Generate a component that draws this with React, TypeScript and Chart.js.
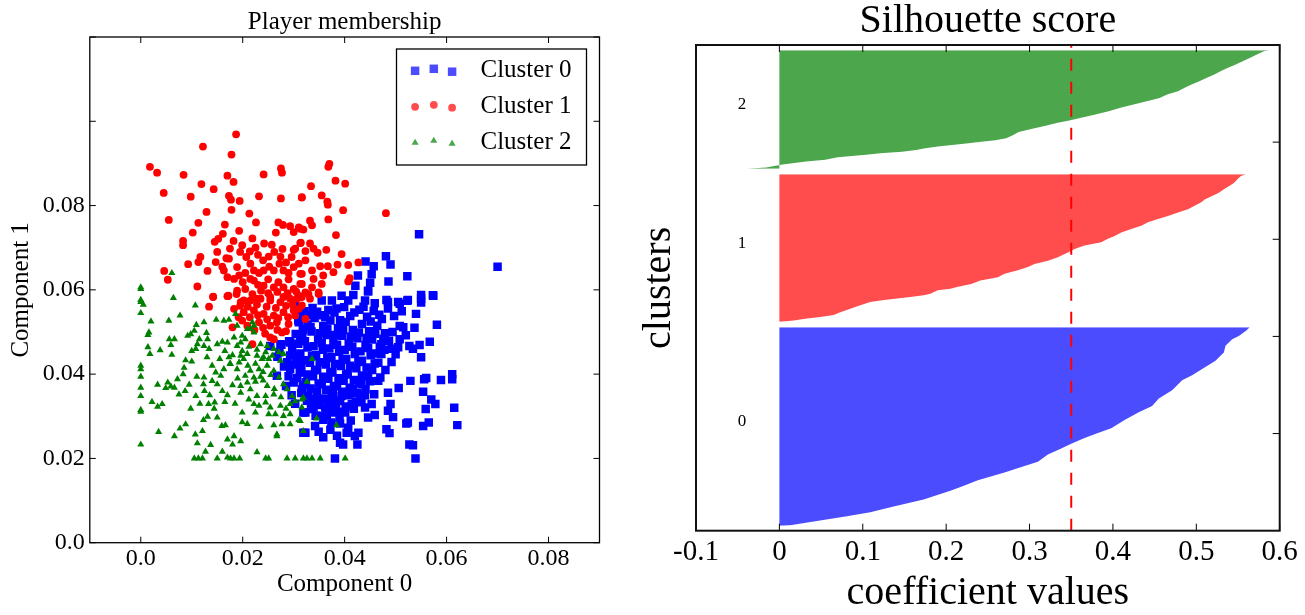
import React, { useEffect, useRef } from 'react';
import { Chart, registerables } from 'chart.js';

Chart.register(...registerables);

const FONT = "'Liberation Serif', 'Times New Roman', serif";

// ---------------- Left chart: scatter ----------------
const scatterTitle = 'Player membership';
const xAxisTitleLeft = 'Component 0';
const yAxisTitleLeft = 'Component 1';
const legendLabels = ['Cluster 0', 'Cluster 1', 'Cluster 2'];
const xRangeLeft = [-0.01, 0.09];
const yRangeLeft = [0, 0.12];
const xTicksLeft = [0, 0.02, 0.04, 0.06, 0.08];
const xTickLabelsLeft = ['0.0', '0.02', '0.04', '0.06', '0.08'];
const yTicksLeft = [0, 0.02, 0.04, 0.06, 0.08, 0.1, 0.12];
const yTickLabelsLeft = ['0.0', '0.02', '0.04', '0.06', '0.08', '', ''];

const cluster0Points: [number, number][] = [
  [0.0546, 0.0732], [0.0481, 0.068], [0.0441, 0.0667], [0.0457, 0.0656], [0.049, 0.066], [0.0453, 0.0637],
  [0.0426, 0.0634], [0.0523, 0.0632], [0.0486, 0.062], [0.045, 0.0617], [0.0421, 0.061], [0.0446, 0.0598],
  [0.055, 0.0588], [0.055, 0.0579], [0.0574, 0.0586], [0.0394, 0.0586], [0.0417, 0.0588], [0.0482, 0.0576],
  [0.0524, 0.0576], [0.0505, 0.0571], [0.0355, 0.0575], [0.0375, 0.0575], [0.0407, 0.0575], [0.044, 0.0575],
  [0.0459, 0.0568], [0.07, 0.0655],
  [0.0254, 0.0467], [0.0274, 0.0471], [0.0293, 0.0475], [0.0313, 0.0483], [0.0319, 0.0507], [0.031, 0.0523],
  [0.0313, 0.0547], [0.0267, 0.0396], [0.0293, 0.0412], [0.0313, 0.0404], [0.03, 0.038], [0.0316, 0.0364],
  [0.0319, 0.0309], [0.0319, 0.0261], [0.0293, 0.0444], [0.0306, 0.0436], [0.0287, 0.0428],
  [0.0272, 0.0452], [0.0281, 0.0418], [0.0276, 0.047], [0.029, 0.0395], [0.0285, 0.0372], [0.0296, 0.035],
  [0.0303, 0.033], [0.0291, 0.0478], [0.0268, 0.0441],
  [0.0446, 0.0596], [0.0485, 0.0571], [0.0508, 0.0567], [0.0523, 0.0574], [0.055, 0.057], [0.0573, 0.0587],
  [0.054, 0.0543], [0.0581, 0.0517], [0.0567, 0.0477], [0.0537, 0.051], [0.0508, 0.0514], [0.0515, 0.0511],
  [0.0547, 0.0469], [0.055, 0.044], [0.0534, 0.046], [0.0527, 0.0467], [0.0508, 0.0483], [0.0505, 0.0464],
  [0.0492, 0.046], [0.0472, 0.0471], [0.0472, 0.0448], [0.0492, 0.0429],
  [0.0611, 0.04], [0.0611, 0.0388], [0.0589, 0.0386], [0.056, 0.0391], [0.0556, 0.0388], [0.0529, 0.0384],
  [0.0506, 0.0367], [0.0485, 0.0356], [0.0466, 0.0384], [0.0446, 0.0396], [0.0433, 0.0376],
  [0.0554, 0.0358], [0.057, 0.034], [0.0578, 0.0329], [0.0559, 0.0317], [0.0615, 0.032], [0.0621, 0.0279],
  [0.0565, 0.0285], [0.0554, 0.0277], [0.0521, 0.0283], [0.0524, 0.0285], [0.0495, 0.0298], [0.0485, 0.0313],
  [0.049, 0.0329], [0.0482, 0.0269], [0.0488, 0.026], [0.0527, 0.0233], [0.0534, 0.0231], [0.0539, 0.02],
  [0.0381, 0.02],
  [0.0391, 0.0237], [0.0397, 0.0233], [0.0425, 0.0233], [0.0427, 0.0261], [0.042, 0.0253], [0.0404, 0.0261],
  [0.0407, 0.0273], [0.0391, 0.0283], [0.0352, 0.0301], [0.0349, 0.0263], [0.0342, 0.0277], [0.0323, 0.0261],
  [0.0446, 0.0297], [0.0459, 0.0303], [0.044, 0.0321], [0.0453, 0.0329], [0.0433, 0.0333], [0.0414, 0.0329],
  [0.0401, 0.0309], [0.0381, 0.0309], [0.0365, 0.0301], [0.0362, 0.0321], [0.0339, 0.0321], [0.0323, 0.0309],
  [0.0342, 0.0341], [0.0375, 0.0345], [0.0394, 0.0348], [0.0414, 0.0356], [0.044, 0.035],
  [0.0302, 0.0561], [0.0321, 0.0549], [0.0337, 0.0557], [0.0353, 0.054], [0.0368, 0.0552], [0.038, 0.0546],
  [0.0399, 0.0559], [0.0411, 0.0538], [0.0429, 0.0553], [0.0444, 0.0536], [0.0457, 0.055], [0.0473, 0.0531],
  [0.0309, 0.0528], [0.0327, 0.0518], [0.0341, 0.0533], [0.0358, 0.0514], [0.0372, 0.0527], [0.0387, 0.0509],
  [0.0402, 0.0524], [0.0416, 0.0505], [0.0434, 0.0519], [0.0448, 0.0502], [0.0464, 0.0515], [0.0479, 0.0497],
  [0.0304, 0.0495], [0.0317, 0.0487], [0.0335, 0.0501], [0.0348, 0.0482], [0.0365, 0.0493], [0.0378, 0.0477],
  [0.0395, 0.0491], [0.0408, 0.0473], [0.0425, 0.0485], [0.0441, 0.0469], [0.0454, 0.0482], [0.0469, 0.0465],
  [0.0487, 0.0479],
  [0.0297, 0.0459], [0.0313, 0.0449], [0.0327, 0.0463], [0.0344, 0.0445], [0.0357, 0.0458], [0.0374, 0.044],
  [0.0389, 0.0453], [0.0403, 0.0436], [0.042, 0.0448], [0.0434, 0.0432], [0.0451, 0.0445], [0.0466, 0.0427],
  [0.0301, 0.0423], [0.0315, 0.0417], [0.0332, 0.0427], [0.0346, 0.041], [0.0363, 0.0423], [0.0376, 0.0405],
  [0.0393, 0.0419], [0.0406, 0.0401], [0.0423, 0.0414], [0.0437, 0.0397], [0.0454, 0.041],
  [0.0307, 0.0391], [0.0324, 0.0381], [0.0338, 0.0395], [0.0355, 0.0376], [0.0368, 0.0389], [0.0385, 0.0371],
  [0.0398, 0.0384], [0.0416, 0.0366], [0.0429, 0.038],
  [0.0315, 0.0355], [0.0329, 0.0349], [0.0346, 0.0359], [0.036, 0.0342], [0.0377, 0.0355], [0.0391, 0.0337],
  [0.0408, 0.035], [0.0422, 0.0335],
  [0.0334, 0.0317], [0.0351, 0.0327], [0.0367, 0.0311], [0.0383, 0.0323], [0.0397, 0.0311],
  [0.0331, 0.054], [0.0346, 0.0548], [0.0362, 0.0535], [0.0384, 0.0556], [0.0391, 0.0528], [0.0419, 0.0546],
  [0.0437, 0.056], [0.0451, 0.0525], [0.0468, 0.0541], [0.0485, 0.0556], [0.0497, 0.0538], [0.0512, 0.0549],
  [0.0318, 0.0505], [0.0333, 0.0512], [0.0351, 0.0497], [0.0366, 0.0508], [0.0381, 0.0493], [0.0397, 0.0505],
  [0.0412, 0.0489], [0.0428, 0.0499], [0.0443, 0.0486], [0.046, 0.0496], [0.0476, 0.0484], [0.0494, 0.05],
  [0.052, 0.0492],
  [0.0309, 0.0472], [0.0322, 0.0478], [0.0339, 0.0466], [0.0355, 0.0474], [0.037, 0.0461], [0.0385, 0.047],
  [0.04, 0.0457], [0.0415, 0.0465], [0.0431, 0.0454], [0.0446, 0.0462], [0.0461, 0.0449], [0.0478, 0.0458],
  [0.05, 0.0447],
  [0.0305, 0.044], [0.032, 0.0433], [0.0336, 0.0443], [0.0351, 0.0428], [0.0366, 0.0438], [0.0381, 0.0424],
  [0.0396, 0.0434], [0.0411, 0.042], [0.0427, 0.0429], [0.0443, 0.0416], [0.0459, 0.0425], [0.048, 0.041],
  [0.0312, 0.0405], [0.0327, 0.0399], [0.0342, 0.041], [0.0358, 0.0394], [0.0372, 0.0404], [0.0388, 0.039],
  [0.0403, 0.0399], [0.0418, 0.0386], [0.0434, 0.0395], [0.045, 0.0383], [0.047, 0.0392],
  [0.0318, 0.0374], [0.0333, 0.0366], [0.0349, 0.0378], [0.0364, 0.0363], [0.0379, 0.0372], [0.0395, 0.0358],
  [0.041, 0.0368], [0.0425, 0.0355], [0.0441, 0.0364], [0.0458, 0.0352],
  [0.0326, 0.0337], [0.034, 0.033], [0.0356, 0.034], [0.0371, 0.0327], [0.0386, 0.0336], [0.0402, 0.0323],
  [0.0418, 0.0318], [0.0431, 0.0343],
  [0.0343, 0.0301], [0.0358, 0.0292], [0.0374, 0.0285], [0.039, 0.0296], [0.0412, 0.029], [0.0372, 0.0268],
  [0.0358, 0.025], [0.0385, 0.0254],
];

const cluster1Points: [number, number][] = [
  [0.0187, 0.0969], [0.0122, 0.094], [0.0178, 0.0921], [0.0018, 0.0892], [0.0032, 0.0878], [0.0084, 0.0873],
  [0.017, 0.0871], [0.0182, 0.0856], [0.0119, 0.0851], [0.0143, 0.0839], [0.0241, 0.0874], [0.0275, 0.0888],
  [0.0277, 0.0878], [0.0045, 0.083], [0.0098, 0.0821], [0.0173, 0.0823], [0.0177, 0.0814], [0.0194, 0.0811],
  [0.0232, 0.0822], [0.0275, 0.0817], [0.0316, 0.082], [0.0129, 0.0785], [0.0178, 0.079], [0.0213, 0.0781],
  [0.0055, 0.0766], [0.0113, 0.0759], [0.0165, 0.0755], [0.0226, 0.076], [0.0102, 0.0736], [0.0161, 0.0733],
  [0.0193, 0.074], [0.027, 0.076], [0.0279, 0.0754], [0.0293, 0.0751], [0.0313, 0.0745], [0.0265, 0.0736],
  [0.0083, 0.0716], [0.0083, 0.0706], [0.0145, 0.0714], [0.0152, 0.0721], [0.0182, 0.0716], [0.0219, 0.0722],
  [0.0199, 0.0706], [0.0242, 0.071], [0.0257, 0.0707], [0.0278, 0.0697], [0.03, 0.0695], [0.0314, 0.0712],
  [0.0175, 0.0698], [0.0214, 0.0691], [0.023, 0.0683], [0.0251, 0.0679], [0.0274, 0.0679], [0.0296, 0.0678],
  [0.0117, 0.0678], [0.0113, 0.0666], [0.0093, 0.0661], [0.0147, 0.0666], [0.0168, 0.0675], [0.0173, 0.0674],
  [0.0207, 0.0678], [0.0131, 0.0645], [0.0163, 0.0646], [0.017, 0.063], [0.0189, 0.0654], [0.0193, 0.0634],
  [0.0215, 0.0662], [0.0222, 0.0646], [0.0215, 0.0626], [0.0241, 0.0646], [0.0261, 0.0646], [0.028, 0.0646],
  [0.03, 0.0654], [0.0313, 0.0638], [0.0046, 0.0645], [0.0053, 0.0624], [0.0111, 0.0608], [0.0142, 0.0583],
  [0.017, 0.0585], [0.0183, 0.0626], [0.0189, 0.0598], [0.0222, 0.0622], [0.0241, 0.061], [0.0261, 0.0606],
  [0.028, 0.0606], [0.03, 0.0602], [0.0313, 0.0614], [0.0202, 0.0575], [0.0228, 0.0579], [0.0254, 0.0583],
  [0.028, 0.0583], [0.0306, 0.0579],
  [0.037, 0.0899], [0.0368, 0.0892], [0.0382, 0.0859], [0.0401, 0.0852], [0.0334, 0.0846], [0.0355, 0.0824],
  [0.0316, 0.0819], [0.0366, 0.0809], [0.0367, 0.0802], [0.0397, 0.0789], [0.0481, 0.0782], [0.0368, 0.0767],
  [0.0332, 0.0764], [0.0336, 0.0753], [0.031, 0.0748], [0.0319, 0.0743], [0.03, 0.0737], [0.0383, 0.073],
  [0.0313, 0.0711], [0.0332, 0.071], [0.0339, 0.0698], [0.0364, 0.0695], [0.0323, 0.0692], [0.0303, 0.0698],
  [0.0394, 0.0685], [0.0347, 0.0688], [0.0323, 0.067], [0.031, 0.0662], [0.0407, 0.0659], [0.0386, 0.066],
  [0.0367, 0.0656], [0.0352, 0.0656], [0.0336, 0.0646], [0.0316, 0.0638], [0.0378, 0.0642], [0.0358, 0.0634],
  [0.041, 0.0628], [0.0407, 0.062], [0.0339, 0.0626], [0.0316, 0.0614], [0.0336, 0.0606], [0.0355, 0.0614],
  [0.0323, 0.0594], [0.0349, 0.059], [0.0316, 0.0583], [0.0332, 0.0579], [0.0427, 0.0665],
  [0.0142, 0.0584], [0.0172, 0.0586], [0.0134, 0.056], [0.0196, 0.0571], [0.0215, 0.0575], [0.0235, 0.0579],
  [0.0254, 0.0575], [0.0274, 0.0571], [0.0293, 0.0579], [0.0313, 0.0583], [0.0183, 0.0555], [0.0202, 0.0547],
  [0.0222, 0.0551], [0.0241, 0.0543], [0.0261, 0.0539], [0.028, 0.0547], [0.03, 0.0551], [0.018, 0.0511],
  [0.0199, 0.0527], [0.0209, 0.0515], [0.0232, 0.0523], [0.0254, 0.0515], [0.0277, 0.0499], [0.0267, 0.0523],
  [0.029, 0.0519], [0.0254, 0.0487], [0.0261, 0.0483], [0.0219, 0.0471],
  [0.031, 0.0586], [0.0329, 0.059], [0.0349, 0.0594], [0.0316, 0.0563], [0.0303, 0.0539], [0.0323, 0.0531],
  [0.031, 0.0555],
  [0.0188, 0.059], [0.0205, 0.0602], [0.0219, 0.059], [0.0236, 0.0598], [0.025, 0.0592], [0.0268, 0.0595],
  [0.0288, 0.0592], [0.0305, 0.0596], [0.0195, 0.0562], [0.021, 0.056], [0.0228, 0.0565], [0.0247, 0.056],
  [0.0265, 0.0557], [0.0285, 0.0562], [0.0298, 0.0566], [0.0192, 0.0535], [0.0214, 0.0535], [0.023, 0.054],
  [0.0248, 0.053], [0.027, 0.0533], [0.0289, 0.0535], [0.0223, 0.0505], [0.024, 0.051], [0.0244, 0.0496],
  [0.0268, 0.0505], [0.0285, 0.0502], [0.02, 0.0618], [0.023, 0.0612], [0.025, 0.0625], [0.027, 0.0618],
  [0.029, 0.0625], [0.0205, 0.064], [0.0232, 0.064], [0.0252, 0.0655], [0.0272, 0.0662], [0.029, 0.064],
  [0.024, 0.067], [0.0262, 0.069], [0.0285, 0.0665], [0.0225, 0.07], [0.0195, 0.069], [0.016, 0.0655],
  [0.015, 0.069],
];

const cluster2Points: [number, number][] = [
  [0.0061, 0.064], [0, 0.0606], [0, 0.0576], [0.0064, 0.0581],
  [0, 0.0602], [0, 0.0571], [0.0005, 0.0565], [0.0107, 0.0563], [0, 0.0545], [0.0077, 0.0539],
  [0.0055, 0.0527], [0.002, 0.0525], [0.0124, 0.0523], [0.0148, 0.0529], [0.0109, 0.0517], [0.0105, 0.0503],
  [0.0098, 0.0495], [0.0092, 0.0491], [0.0016, 0.0499], [0.0014, 0.0493], [0.0129, 0.0498], [0.0131, 0.0483],
  [0.0115, 0.0483], [0.0163, 0.0527], [0.0173, 0.0529], [0.0186, 0.0543], [0.0056, 0.0483], [0.0066, 0.0483],
  [0.0059, 0.0469], [0.0014, 0.0464], [0.0038, 0.0457], [0.0018, 0.0448], [0.0061, 0.0446], [0.0111, 0.0471],
  [0.0124, 0.0467], [0.0134, 0.046], [0.0108, 0.046], [0.015, 0.0471], [0.016, 0.0477], [0.017, 0.0475],
  [0.0183, 0.0487], [0.0196, 0.0475], [0.0205, 0.0483], [0.0215, 0.0507], [0.0222, 0.0515], [0.0088, 0.0433],
  [0.0155, 0.0436], [0.0173, 0.044], [0.0176, 0.0424], [0.0163, 0.0412], [0.0147, 0.0404], [0.0157, 0.0396],
  [0.0189, 0.0412], [0.0202, 0.0436], [0, 0.042], [0, 0.0412], [0, 0.0394], [0.0033, 0.0375],
  [0.0053, 0.038], [0.0059, 0.0371], [0.0049, 0.0367], [0.0066, 0.0368], [0.0072, 0.0388], [0.0083, 0.04],
  [0.011, 0.0394], [0.0124, 0.0392], [0.0123, 0.0376], [0.015, 0.0376], [0.014, 0.0384], [0.018, 0.0374],
  [0.0196, 0.0372], [0.0209, 0.038], [0.0225, 0.0382], [0.0215, 0.0408], [0.0232, 0.0412], [0.0248, 0.042],
  [0.0238, 0.0436], [0.0251, 0.0436], [0, 0.0368], [0, 0.0348], [0.0075, 0.0352], [0.0087, 0.036],
  [0.0108, 0.0348], [0.0022, 0.0334], [0.0033, 0.0323], [0.0042, 0.0329], [0.0116, 0.033], [0.0133, 0.0329],
  [0.0145, 0.0333], [0.0144, 0.0318], [0.0165, 0.0334], [0.0098, 0.0318], [0, 0.0315], [0, 0.0311],
  [0.0196, 0.0356], [0.0215, 0.0364], [0.0228, 0.0348], [0.0245, 0.0348], [0.0261, 0.0352], [0.0222, 0.0329],
  [0.0232, 0.0325], [0.0254, 0.0321], [0.0274, 0.0325], [0.0293, 0.0329], [0.0199, 0.0309], [0.0225, 0.0309],
  [0.0251, 0.0305], [0.0264, 0.0305], [0.028, 0.0301], [0.0293, 0.0305], [0.0131, 0.0299], [0.0123, 0.0291],
  [0.015, 0.0297], [0.0159, 0.0277], [0.0166, 0.0279], [0.0088, 0.0281], [0.0077, 0.0271], [0.0066, 0.0253],
  [0.0035, 0.0263], [0.0107, 0.0257], [0.0121, 0.0265], [0.0199, 0.0286], [0.0209, 0.0282], [0.0235, 0.0275],
  [0.0261, 0.0279], [0.0277, 0.0281], [0.0293, 0.0281], [0.0313, 0.0289], [0.017, 0.0245], [0.0183, 0.0253],
  [0.018, 0.0233], [0.0196, 0.0241], [0.0267, 0.0257], [0.0267, 0.0253], [0, 0.0233], [0.0111, 0.0236],
  [0.0137, 0.0232], [0.0127, 0.0216], [0.016, 0.0216], [0.017, 0.0202], [0.0228, 0.0215],
  [0.0105, 0.02], [0.0113, 0.02], [0.0121, 0.02], [0.015, 0.02], [0.0176, 0.02], [0.0183, 0.02],
  [0.0194, 0.02], [0.0245, 0.02], [0.0251, 0.02], [0.0287, 0.02], [0.0303, 0.02], [0.0319, 0.02],
  [0.0326, 0.02], [0.0336, 0.02], [0.0352, 0.02], [0.0401, 0.02],
  [0.0189, 0.0515], [0.0209, 0.0507], [0.0219, 0.0523], [0.0222, 0.0499], [0.0199, 0.0491], [0.0235, 0.0471],
  [0.0248, 0.0467], [0.0261, 0.046], [0.0271, 0.0452], [0.028, 0.0448], [0.0189, 0.0467], [0.0199, 0.0455],
  [0.0209, 0.0448], [0.0196, 0.0444], [0.0228, 0.0444], [0.0241, 0.044], [0.0258, 0.0444], [0.0274, 0.0432],
  [0.0261, 0.0408], [0.0271, 0.0392], [0.028, 0.0376], [0.0287, 0.0364], [0.0297, 0.0348], [0.0303, 0.0336],
  [0.0222, 0.0392], [0.0235, 0.0394], [0.0248, 0.0372],
  [0.0336, 0.0436], [0.0326, 0.0382], [0.0316, 0.034], [0.0319, 0.0344], [0.0316, 0.0321], [0.031, 0.0291],
  [0.0319, 0.0265], [0.0384, 0.0279], [0.0345, 0.0295],
  [0.0165, 0.0455], [0.018, 0.0445], [0.0212, 0.0465], [0.0228, 0.0458], [0.0245, 0.0452], [0.0175, 0.0425],
  [0.0193, 0.0428], [0.021, 0.042], [0.0225, 0.0425], [0.024, 0.0405], [0.0255, 0.0398], [0.0205, 0.0396],
  [0.019, 0.039], [0.024, 0.0385], [0.0262, 0.0365], [0.0275, 0.0345], [0.0285, 0.0318], [0.0245, 0.0333],
  [0.0212, 0.034], [0.0185, 0.033], [0.017, 0.035], [0.016, 0.036], [0.0135, 0.035], [0.0125, 0.036],
  [0.0095, 0.0375], [0.0085, 0.0415], [0.01, 0.043], [0.013, 0.044], [0.014, 0.042], [0.01, 0.0455],
];

// ---------------- Right chart: silhouette ----------------
const silhouetteTitle = 'Silhouette score';
const xAxisTitleRight = 'coefficient values';
const yAxisTitleRight = 'clusters';
const xRangeRight = [-0.1, 0.6];
const yRangeRight = [0, 1000];
const xTicksRight = [-0.1, 0, 0.1, 0.2, 0.3, 0.4, 0.5, 0.6];
const xTickLabelsRight = ['-0.1', '0', '0.1', '0.2', '0.3', '0.4', '0.5', '0.6'];
const yTicksRight = [200, 400, 600, 800];
const clusterNames = ['0', '1', '2'];
const clusterStarts = [10, 430, 745];
const clusterSizes = [410, 305, 245];
const clusterLabelX = -0.05;
const averageSilhouette = 0.35;

// [sample index, silhouette value] read along each sorted profile
const silhouette0: [number, number][] = [
  [10, 0.004], [11, 0.013], [20, 0.045], [30, 0.081], [38, 0.109], [50, 0.137], [64, 0.173], [83, 0.206],
  [93, 0.222], [104, 0.238], [120, 0.27], [133, 0.294], [142, 0.31], [157, 0.322], [169, 0.338], [179, 0.35],
  [191, 0.366], [201, 0.382], [211, 0.398], [228, 0.414], [244, 0.431], [257, 0.447], [272, 0.455],
  [289, 0.471], [310, 0.483], [320, 0.495], [333, 0.507], [350, 0.523], [367, 0.533], [381, 0.535],
  [394, 0.543], [401, 0.551], [412, 0.56], [419, 0.564],
];
const silhouette1: [number, number][] = [
  [430, 0.002], [433, 0.017], [437, 0.033], [440, 0.049], [444, 0.065], [450, 0.073], [457, 0.085],
  [464, 0.097], [471, 0.109], [474, 0.121], [478, 0.141], [481, 0.157], [485, 0.173], [488, 0.181],
  [495, 0.19], [498, 0.205], [502, 0.213], [508, 0.23], [515, 0.241], [522, 0.262], [529, 0.27], [536, 0.286],
  [543, 0.298], [549, 0.306], [556, 0.322], [563, 0.334], [573, 0.346], [580, 0.354], [587, 0.366],
  [594, 0.386], [601, 0.394], [607, 0.402], [614, 0.41], [621, 0.422], [628, 0.434], [635, 0.442],
  [642, 0.454], [648, 0.466], [655, 0.478], [662, 0.49], [669, 0.498], [676, 0.506], [682, 0.51],
  [689, 0.519], [696, 0.527], [703, 0.533], [709, 0.539], [716, 0.545], [723, 0.549], [730, 0.553],
  [734, 0.559],
];
const silhouette2: [number, number][] = [
  [745, -0.039], [748, -0.016], [752, -0.003], [754, 0.004], [757, 0.018], [760, 0.032], [764, 0.055],
  [769, 0.07], [774, 0.104], [777, 0.121], [780, 0.147], [784, 0.164], [787, 0.173], [791, 0.19],
  [794, 0.207], [797, 0.224], [801, 0.242], [804, 0.259], [808, 0.272], [814, 0.28], [821, 0.287],
  [827, 0.302], [833, 0.318], [840, 0.334], [845, 0.349], [850, 0.362], [857, 0.379], [864, 0.396],
  [871, 0.409], [878, 0.426], [885, 0.443], [891, 0.456], [898, 0.465], [905, 0.478], [912, 0.486],
  [919, 0.495], [925, 0.503], [932, 0.512], [939, 0.521], [946, 0.529], [953, 0.538], [959, 0.546],
  [966, 0.555], [973, 0.564], [980, 0.572], [987, 0.581], [989, 0.587],
];

// ---------------- styling ----------------
const scatterColors = ['#0000ff', '#ff0000', '#008000'];
const legendColors = ['rgba(0,0,255,0.7)', 'rgba(255,0,0,0.7)', 'rgba(0,128,0,0.7)'];
const markerStyles = ['rect', 'circle', 'triangle'];
const markerRadii = [6, 3.9, 4.1];
const bandColors = ['rgba(0,0,255,0.7)', 'rgba(255,0,0,0.7)', 'rgba(0,128,0,0.7)'];

function drawMarker(ctx: CanvasRenderingContext2D, style: string, x: number, y: number, r: number) {
  ctx.beginPath();
  if (style === 'rect') {
    const h = r * Math.SQRT1_2;
    ctx.rect(x - h, y - h, 2 * h, 2 * h);
  } else if (style === 'circle') {
    ctx.arc(x, y, r, 0, Math.PI * 2);
  } else {
    ctx.moveTo(x, y - r);
    ctx.lineTo(x + r * Math.sin((2 * Math.PI) / 3), y + r * 0.5);
    ctx.lineTo(x - r * Math.sin((2 * Math.PI) / 3), y + r * 0.5);
    ctx.closePath();
  }
  ctx.fill();
}

const framePlugin = {
  id: 'frame',
  afterDatasetsDraw(chart: any, _args: any, opts: any) {
    const { ctx, chartArea: a } = chart;
    const xs = chart.scales.x;
    const ys = chart.scales.y;
    ctx.save();
    ctx.strokeStyle = '#000';
    ctx.lineWidth = opts.tickWidth;
    ctx.beginPath();
    for (const t of xs.ticks) {
      const px = xs.getPixelForValue(t.value);
      ctx.moveTo(px, a.bottom);
      ctx.lineTo(px, a.bottom - opts.tickLen);
      ctx.moveTo(px, a.top);
      ctx.lineTo(px, a.top + opts.tickLen);
    }
    for (const t of ys.ticks) {
      const py = ys.getPixelForValue(t.value);
      if (opts.left) {
        ctx.moveTo(a.left, py);
        ctx.lineTo(a.left + opts.tickLen, py);
      }
      if (opts.right) {
        ctx.moveTo(a.right, py);
        ctx.lineTo(a.right - opts.tickLen, py);
      }
    }
    ctx.stroke();
    ctx.lineWidth = opts.borderWidth;
    ctx.strokeStyle = opts.borderColor;
    ctx.strokeRect(a.left, a.top, a.right - a.left, a.bottom - a.top);
    ctx.restore();
  },
};

const legendPlugin = {
  id: 'clusterLegend',
  afterDatasetsDraw(chart: any) {
    const { ctx, chartArea: a } = chart;
    const bw = 190;
    const bh = 116;
    const bx = a.right - 13 - bw;
    const by = a.top + 12;
    ctx.save();
    ctx.fillStyle = '#fff';
    ctx.fillRect(bx, by, bw, bh);
    ctx.strokeStyle = '#000';
    ctx.lineWidth = 1.3;
    ctx.strokeRect(bx, by, bw, bh);
    const rows = [21.5, 57.5, 93.5];
    const mx = [18.6, 37.3, 55.6];
    const dy = [0.3, -1.7, 1.2];
    legendLabels.forEach((lab, i) => {
      const cy = by + rows[i];
      ctx.fillStyle = legendColors[i];
      mx.forEach((m, j) => drawMarker(ctx, markerStyles[i], bx + m, cy + dy[j], markerRadii[i]));
      ctx.fillStyle = '#000';
      ctx.font = `25px ${FONT}`;
      ctx.textBaseline = 'middle';
      ctx.textAlign = 'left';
      ctx.fillText(lab, bx + 84, cy);
    });
    ctx.restore();
  },
};

const clusterLabelPlugin = {
  id: 'clusterLabels',
  afterDatasetsDraw(chart: any) {
    const { ctx } = chart;
    const xs = chart.scales.x;
    const ys = chart.scales.y;
    ctx.save();
    ctx.fillStyle = '#000';
    ctx.font = `17px ${FONT}`;
    ctx.textAlign = 'left';
    ctx.textBaseline = 'alphabetic';
    clusterNames.forEach((name, i) => {
      ctx.fillText(
        name,
        xs.getPixelForValue(clusterLabelX),
        ys.getPixelForValue(clusterStarts[i] + clusterSizes[i] / 2)
      );
    });
    ctx.restore();
  },
};

function leftConfig(): any {
  const sets = [cluster0Points, cluster1Points, cluster2Points];
  return {
    type: 'scatter',
    data: {
      datasets: sets.map((pts, i) => ({
        label: legendLabels[i],
        data: pts.map(([x, y]) => ({ x, y })),
        pointStyle: markerStyles[i],
        pointRadius: markerRadii[i],
        pointBackgroundColor: scatterColors[i],
        pointBorderWidth: 0,
        pointBorderColor: 'rgba(0,0,0,0)',
        order: 3 - i,
      })),
    },
    options: {
      animation: false,
      responsive: false,
      maintainAspectRatio: false,
      events: [],
      layout: { padding: { left: 0, right: 30.5, top: 0, bottom: 0 } },
      plugins: {
        legend: { display: false },
        tooltip: { enabled: false },
        title: {
          display: true,
          text: scatterTitle,
          fullSize: false,
          color: '#000',
          font: { family: FONT, size: 25, weight: 'normal', lineHeight: 1.2 },
          padding: { top: 7, bottom: 0 },
        },
        frame: { tickLen: 6, tickWidth: 1, borderWidth: 1.3, borderColor: '#000', left: true, right: true },
      },
      scales: {
        x: {
          type: 'linear',
          min: xRangeLeft[0],
          max: xRangeLeft[1],
          afterBuildTicks: (s: any) => {
            s.ticks = xTicksLeft.map((v) => ({ value: v }));
          },
          afterFit: (s: any) => {
            s.height = 72.3;
          },
          grid: { display: false, drawTicks: false },
          border: { display: false },
          ticks: {
            autoSkip: false,
            maxRotation: 0,
            padding: 2,
            color: '#000',
            font: { family: FONT, size: 24 },
            callback: (v: any) => xTickLabelsLeft[xTicksLeft.indexOf(v)] ?? '',
          },
          title: {
            display: true,
            text: xAxisTitleLeft,
            color: '#000',
            font: { family: FONT, size: 25, lineHeight: 1.2 },
            padding: { top: 0, bottom: 16 },
          },
        },
        y: {
          type: 'linear',
          min: yRangeLeft[0],
          max: yRangeLeft[1],
          afterBuildTicks: (s: any) => {
            s.ticks = yTicksLeft.map((v) => ({ value: v }));
          },
          afterFit: (s: any) => {
            s.width = 89.8;
          },
          grid: { display: false, drawTicks: false },
          border: { display: false },
          ticks: {
            autoSkip: false,
            padding: 5,
            color: '#000',
            font: { family: FONT, size: 24 },
            callback: (v: any) => yTickLabelsLeft[yTicksLeft.indexOf(v)] ?? '',
          },
          title: {
            display: true,
            text: yAxisTitleLeft,
            color: '#000',
            font: { family: FONT, size: 25, lineHeight: 1.2 },
            padding: { top: 6, bottom: 0 },
          },
        },
      },
    },
    plugins: [framePlugin, legendPlugin],
  };
}

function rightConfig(): any {
  const profiles = [silhouette0, silhouette1, silhouette2];
  const bands = profiles.map((prof, i) => ({
    label: clusterNames[i],
    data: prof.map(([idx, v]) => ({ x: v, y: idx })),
    backgroundColor: bandColors[i],
    borderColor: 'rgba(0,0,0,0)',
    borderWidth: 0,
    pointRadius: 0,
    tension: 0,
    fill: { value: 0 },
    order: 2,
  }));
  const avgLine = {
    label: 'average',
    data: [
      { x: averageSilhouette, y: yRangeRight[0] },
      { x: averageSilhouette, y: yRangeRight[1] },
    ],
    borderColor: '#ff0000',
    borderWidth: 2,
    borderDash: [12, 11],
    pointRadius: 0,
    fill: false,
    order: 0,
  };
  return {
    type: 'line',
    data: { datasets: [...bands, avgLine] },
    options: {
      indexAxis: 'y',
      animation: false,
      responsive: false,
      maintainAspectRatio: false,
      events: [],
      layout: { padding: { left: 0, right: 25.3, top: 0, bottom: 0 } },
      plugins: {
        legend: { display: false },
        tooltip: { enabled: false },
        title: {
          display: true,
          text: silhouetteTitle,
          fullSize: false,
          color: '#000',
          font: { family: FONT, size: 40, weight: 'normal', lineHeight: 1 },
          padding: { top: 1.5, bottom: 3.5 },
        },
        frame: { tickLen: 7, tickWidth: 1, borderWidth: 2, borderColor: '#111', left: false, right: true },
      },
      scales: {
        x: {
          type: 'linear',
          position: 'bottom',
          min: xRangeRight[0],
          max: xRangeRight[1],
          afterBuildTicks: (s: any) => {
            s.ticks = xTicksRight.map((v) => ({ value: v }));
          },
          afterFit: (s: any) => {
            s.height = 84.3;
          },
          grid: { display: false, drawTicks: false },
          border: { display: false },
          ticks: {
            autoSkip: false,
            maxRotation: 0,
            padding: 4,
            color: '#000',
            font: { family: FONT, size: 29 },
            callback: (v: any) => xTickLabelsRight[xTicksRight.indexOf(v)] ?? '',
          },
          title: {
            display: true,
            text: xAxisTitleRight,
            color: '#000',
            font: { family: FONT, size: 40, lineHeight: 1 },
            padding: { top: 0, bottom: 2 },
          },
        },
        y: {
          type: 'linear',
          position: 'left',
          min: yRangeRight[0],
          max: yRangeRight[1],
          afterBuildTicks: (s: any) => {
            s.ticks = yTicksRight.map((v) => ({ value: v }));
          },
          afterFit: (s: any) => {
            s.width = 66;
          },
          grid: { display: false, drawTicks: false },
          border: { display: false },
          ticks: { display: false },
          title: {
            display: true,
            text: yAxisTitleRight,
            color: '#000',
            font: { family: FONT, size: 40, lineHeight: 1 },
            padding: { top: 9, bottom: 0 },
          },
        },
      },
    },
    plugins: [framePlugin, clusterLabelPlugin],
  };
}

export default function App() {
  const leftRef = useRef<HTMLCanvasElement>(null);
  const rightRef = useRef<HTMLCanvasElement>(null);
  useEffect(() => {
    const c1 = new Chart(leftRef.current as HTMLCanvasElement, leftConfig());
    const c2 = new Chart(rightRef.current as HTMLCanvasElement, rightConfig());
    return () => {
      c1.destroy();
      c2.destroy();
    };
  }, []);
  return (
    <div style={{ position: 'fixed', left: 0, top: 0, width: 1305, height: 615, background: '#fff' }}>
      <canvas
        ref={leftRef}
        width={630}
        height={615}
        style={{ position: 'absolute', left: 0, top: 0, width: 630, height: 615 }}
      />
      <canvas
        ref={rightRef}
        width={675}
        height={615}
        style={{ position: 'absolute', left: 630, top: 0, width: 675, height: 615 }}
      />
    </div>
  );
}
